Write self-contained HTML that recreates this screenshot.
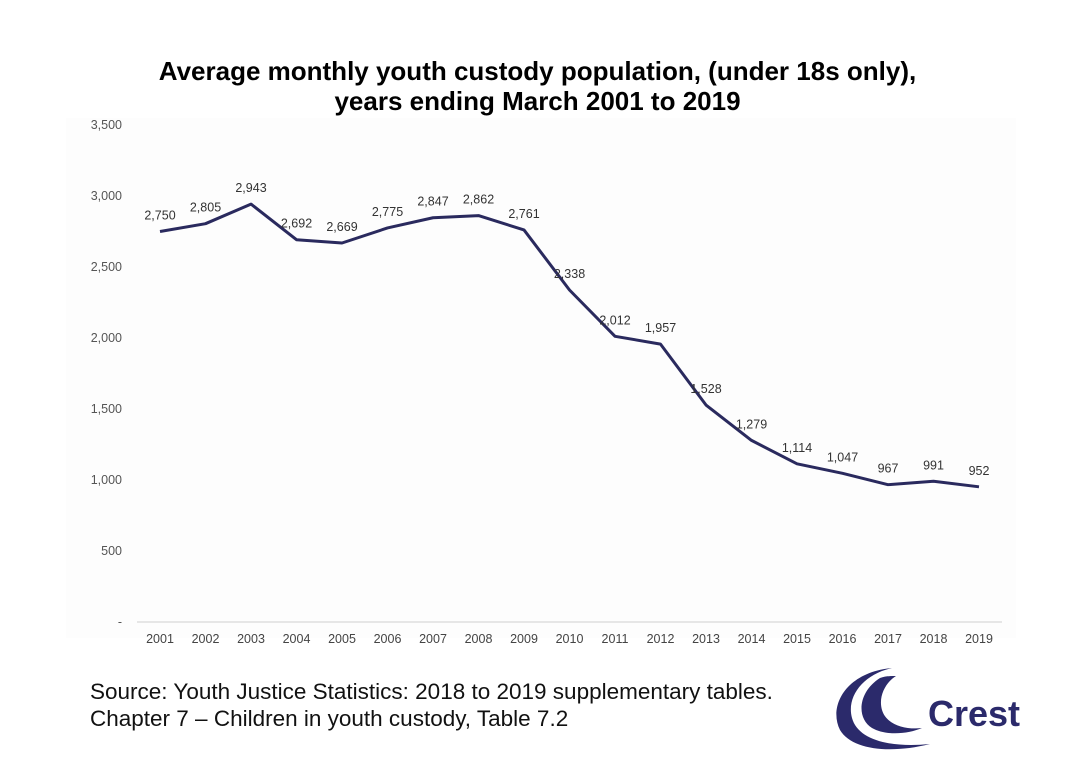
<!DOCTYPE html>
<html><head><meta charset="utf-8"><style>
body{margin:0;background:#fff;}
#wrap{position:relative;width:1091px;height:760px;background:#fff;font-family:"Liberation Sans",Arial,sans-serif;}
.title{position:absolute;left:-8px;width:1091px;text-align:center;font-weight:bold;font-size:26px;line-height:30px;color:#000;}
.src{position:absolute;left:90px;font-size:22.5px;color:#111;}
</style></head><body>
<div id="wrap">
<div class="title" style="top:56px">Average monthly youth custody population, (under 18s only),<br>years ending March 2001 to 2019</div>
<svg id="chart" width="1091" height="760" style="position:absolute;left:0;top:0">
<rect x="66" y="118" width="950" height="520" fill="#fdfdfd"/>
</svg>
<div class="src" style="top:679px">Source: Youth Justice Statistics: 2018 to 2019 supplementary tables.</div>
<div class="src" style="top:706px">Chapter 7 – Children in youth custody, Table 7.2</div>
<svg style="position:absolute;left:826px;top:664px" width="210" height="92">
<path d="M66 4 C20 8 2 42 14 66 C26 86 64 90 104 80 C64 84 32 76 26 54 C20 32 38 10 66 4Z" fill="#2b2a6b"/>
<path d="M54 14 C32 28 30 54 46 64 C60 72 82 70 96 64 C78 66 60 60 56 46 C52 32 60 18 70 12 C64 12 59 12 54 14Z" fill="#2b2a6b"/>
<text x="102" y="62" font-family="Liberation Sans,Arial,sans-serif" font-weight="bold" font-size="36" fill="#2b2a6b">Crest</text>
</svg>
</div>
<script>
const years=["2001","2002","2003","2004","2005","2006","2007","2008","2009","2010","2011","2012","2013","2014","2015","2016","2017","2018","2019"];
const values=[2750,2805,2943,2692,2669,2775,2847,2862,2761,2338,2012,1957,1528,1279,1114,1047,967,991,952];
const yTicks=[0,500,1000,1500,2000,2500,3000,3500];
const yTickLabels=["-","500","1,000","1,500","2,000","2,500","3,000","3,500"];
const NS="http://www.w3.org/2000/svg";
const svg=document.getElementById('chart');
const x=i=>160+i*(979-160)/(years.length-1);
const y=v=>622-v*(622-125)/3500;
function mk(t,a){const e=document.createElementNS(NS,t);for(const k in a)e.setAttribute(k,a[k]);svg.appendChild(e);return e;}
const ax=mk('line',{x1:137,x2:1002,y1:622,y2:622,stroke:'#d0d0d0','stroke-width':1});


yTicks.forEach((v,i)=>{const t=mk('text',{x:122,y:y(v)+4,'text-anchor':'end','font-size':12.5,fill:'#555','font-family':'Liberation Sans,Arial,sans-serif'});t.textContent=yTickLabels[i];

});
years.forEach((yr,i)=>{const t=mk('text',{x:x(i),y:643,'text-anchor':'middle','font-size':12.5,fill:'#444','font-family':'Liberation Sans,Arial,sans-serif'});t.textContent=yr;

});
const p=mk('polyline',{points:values.map((v,i)=>x(i)+','+y(v)).join(' '),fill:'none',stroke:'#2a2a5e','stroke-width':3,'stroke-linejoin':'round'});


values.forEach((v,i)=>{const t=mk('text',{x:x(i),y:y(v)-12,'text-anchor':'middle','font-size':12.5,fill:'#333','font-family':'Liberation Sans,Arial,sans-serif'});t.textContent=v.toLocaleString('en-US');

});
</script>
</body></html>
